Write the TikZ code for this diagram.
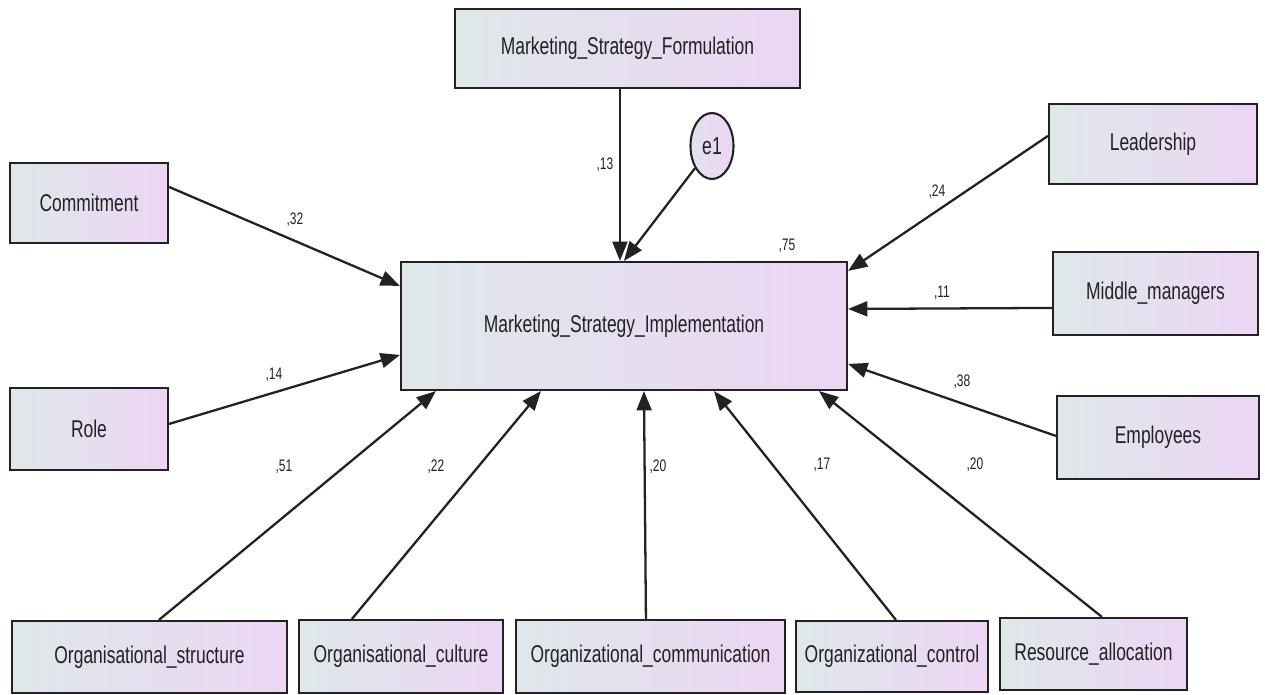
\documentclass[tikz,border=0pt]{standalone}
\usepackage{fontspec}
\setmainfont{Liberation Sans}[FakeStretch=0.72]
\usetikzlibrary{arrows.meta,calc,shapes.geometric}
\definecolor{boxleft}{HTML}{DEE8EA}
\definecolor{boxright}{HTML}{EDD5F4}
\definecolor{ink}{HTML}{222222}
% a box given by its corners in pixel-like units
\newcommand\pathbox[6]{%
  \node[varbox, minimum width={(#4-#2)*0.02cm}, minimum height={(#5-#3)*0.02cm}]
    (#1) at ({(#2+#4)/2},{(#3+#5)/2}) {#6};}
\begin{document}
\begin{tikzpicture}[x=0.02cm,y=-0.02cm,
  varbox/.style={draw=ink, line width=1.2pt, rectangle, inner sep=0pt,
    left color=boxleft, right color=boxright, text=ink, font=\fontsize{13.8}{15}\selectfont},
  errc/.style={draw=ink, line width=1.2pt, ellipse, inner sep=0pt,
    minimum width=43*0.02cm, minimum height=66*0.02cm,
    left color=boxleft!60!boxright, right color=boxright, text=ink, font=\fontsize{14}{16}\selectfont},
  effect/.style={draw=ink, line width=1.3pt, -{Triangle[length=11pt,width=8.5pt]}},
  coef/.style={text=ink, font=\fontsize{9.5}{11}\selectfont, inner sep=1pt}]
\useasboundingbox[fill=white] (0,0) rectangle (1265,695);

% variables
\pathbox{msf}{455}{9}{800}{88}{Marketing\_Strategy\_Formulation}
\pathbox{msi}{401}{262}{847}{390}{Marketing\_Strategy\_Implementation}
\pathbox{comm}{10}{163}{168}{243}{Commitment}
\pathbox{role}{10}{388}{168}{470}{Role}
\pathbox{lead}{1049}{104}{1257}{184}{Leadership}
\pathbox{mid}{1053}{252}{1258}{335}{Middle\_managers}
\pathbox{emp}{1057}{396}{1259}{479}{Employees}
\pathbox{ostr}{12}{621}{287}{693}{Organisational\_structure}
\pathbox{ocul}{299}{620}{503}{693}{Organisational\_culture}
\pathbox{ocom}{516}{620}{785}{693}{Organizational\_communication}
\pathbox{octl}{796}{621}{988}{692}{Organizational\_control}
\pathbox{res}{1000}{618}{1187}{690}{Resource\_allocation}
\node[errc] (e1) at (712,146) {e1};

% regression paths
\draw[effect] ($(msf.south west)+(166,0)$) -- ($(msi.north west)+(220,0)$);
\draw[effect] (e1) -- ($(msi.north west)+(224,0)$);
\draw[effect] ($(comm.north east)+(0,25)$) -- ($(msi.north west)+(0,25)$);
\draw[effect] ($(role.north east)+(0,37)$) -- ($(msi.north west)+(0,94)$);
\draw[effect] ($(ostr.north west)+(148,0)$) -- ($(msi.south west)+(36,0)$);
\draw[effect] ($(ocul.north west)+(54,0)$) -- ($(msi.south west)+(141,0)$);
\draw[effect] ($(ocom.north west)+(131,0)$) -- ($(msi.south west)+(244,0)$);
\draw[effect] ($(octl.north west)+(101,0)$) -- ($(msi.south west)+(314,0)$);
\draw[effect] ($(res.north west)+(103,0)$) -- ($(msi.south west)+(419,0)$);
\draw[effect] ($(lead.north west)+(0,33)$) -- ($(msi.north east)+(0,10)$);
\draw[effect] ($(mid.north west)+(0,57)$) -- ($(msi.north east)+(0,48)$);
\draw[effect] ($(emp.north west)+(0,41)$) -- ($(msi.north east)+(0,103)$);

% estimates
\node[coef] (c13) at (605,165) {,13};
\node[coef] (c75) at (787,246) {,75};
\node[coef] (c32) at (295,220) {,32};
\node[coef] (c14) at (274,375) {,14};
\node[coef] (c51) at (284,467) {,51};
\node[coef] (c22) at (436,467) {,22};
\node[coef] (c20a) at (658,467) {,20};
\node[coef] (c17) at (822,465) {,17};
\node[coef] (c20b) at (975,465) {,20};
\node[coef] (c24) at (937,192) {,24};
\node[coef] (c11) at (942,293) {,11};
\node[coef] (c38) at (962,382) {,38};
\end{tikzpicture}
\end{document}
